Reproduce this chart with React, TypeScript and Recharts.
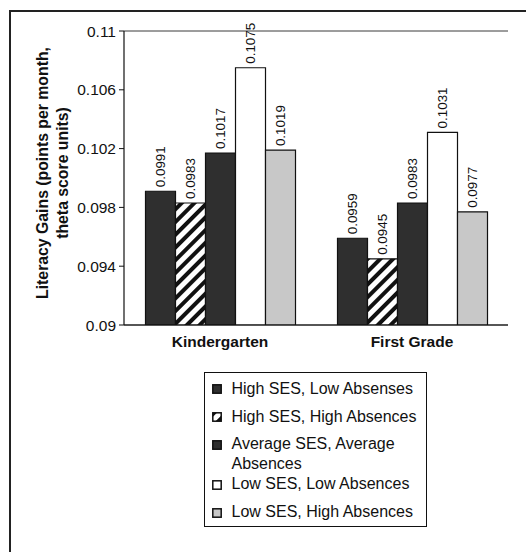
import React from 'react';
import { BarChart, Bar, XAxis, YAxis, CartesianGrid, LabelList, Legend, Label } from 'recharts';

const categories = ['Kindergarten', 'First Grade'];
const seriesNames = [
  'High SES, Low Absenses',
  'High SES, High Absences',
  'Average SES, Average Absences',
  'Low SES, Low Absences',
  'Low SES, High Absences',
];
const legendLines = [
  ['High SES, Low Absenses'],
  ['High SES, High Absences'],
  ['Average SES, Average', 'Absences'],
  ['Low SES, Low Absences'],
  ['Low SES, High Absences'],
];
const highSesLowAbs = [0.0991, 0.0959];
const highSesHighAbs = [0.0983, 0.0945];
const avgSesAvgAbs = [0.1017, 0.0983];
const lowSesLowAbs = [0.1075, 0.1031];
const lowSesHighAbs = [0.1019, 0.0977];
const yTicks = [0.09, 0.094, 0.098, 0.102, 0.106, 0.11];
const yLabelLines = ['Literacy Gains (points per month,', 'theta score units)'];

const seriesKeys = ['s1', 's2', 's3', 's4', 's5'];
const seriesValues = [highSesLowAbs, highSesHighAbs, avgSesAvgAbs, lowSesLowAbs, lowSesHighAbs];
const fills = ['#2f2f2f', 'url(#hatch)', '#2f2f2f', '#ffffff', '#c8c8c8'];

const data = categories.map((c, i) => {
  const row: any = { name: c };
  seriesKeys.forEach((k, j) => {
    row[k] = seriesValues[j][i];
  });
  return row;
});

const FONT = '"Liberation Sans", Arial, Helvetica, sans-serif';

const renderBarLabel = (props: any) => {
  const { x, y, width, value } = props;
  const cx = Number(x) + Number(width) / 2;
  const ty = Number(y) - 4;
  return (
    <text
      x={cx}
      y={ty}
      transform={`rotate(-90 ${cx} ${ty})`}
      textAnchor="start"
      dominantBaseline="central"
      fontSize={13.4}
      fontFamily={FONT}
      fill="#111"
    >
      {String(value)}
    </text>
  );
};

const renderYLabel = (props: any) => {
  const vb = props.viewBox || { x: 0, y: 31, width: 124, height: 294 };
  const cy = vb.y + vb.height / 2 - 5;
  const xs = [42, 62];
  return (
    <g>
      {yLabelLines.map((line, i) => (
        <text
          key={i}
          x={xs[i]}
          y={cy}
          transform={`rotate(-90 ${xs[i]} ${cy})`}
          textAnchor="middle"
          dominantBaseline="central"
          fontSize={15.8}
          fontWeight="bold"
          fontFamily={FONT}
          fill="#111"
        >
          {line}
        </text>
      ))}
    </g>
  );
};

const rowTops = [17.3, 45.3, 73, 113, 140.7];

const renderLegend = () => (
  <div
    style={{
      position: 'relative',
      width: 223,
      height: 155,
      border: '1.6px solid #111',
      boxSizing: 'border-box',
      fontFamily: FONT,
      fontSize: 16,
      color: '#111',
      background: '#fff',
    }}
  >
    {legendLines.map((lines, i) => (
      <div key={i} style={{ position: 'absolute', left: 0, top: rowTops[i] - 10 - 1.6, width: 220 }}>
        <svg
          width={10}
          height={10}
          style={{ position: 'absolute', left: 7, top: 5.5 }}
        >
          <rect x={0.8} y={0.8} width={8.4} height={8.4} fill={fills[i]} stroke="#111" strokeWidth={1.5} />
        </svg>
        <div style={{ position: 'absolute', left: 26.5, top: 0, lineHeight: '19.5px', whiteSpace: 'nowrap' }}>
          {lines.map((l, k) => (
            <div key={k}>{l}</div>
          ))}
        </div>
      </div>
    ))}
  </div>
);

export default function App() {
  return (
    <div style={{ position: 'absolute', left: 0, top: 0, width: 526, height: 552, background: '#fff' }}>
      <div
        style={{
          position: 'absolute',
          left: 9,
          top: 10,
          width: 517,
          height: 542,
          borderLeft: '2px solid #222',
          borderTop: '2px solid #222',
          boxSizing: 'border-box',
        }}
      />
      <BarChart
        width={526}
        height={552}
        data={data}
        margin={{ top: 31, right: 18, left: 0, bottom: 197 }}
        barCategoryGap="11.2%"
        barGap={0}
        style={{ position: 'absolute', left: 0, top: 0 }}
      >
        <defs>
          <pattern id="hatch" patternUnits="userSpaceOnUse" width={9} height={9} patternTransform="rotate(45)">
            <rect x={0} y={0} width={9} height={9} fill="#ffffff" />
            <rect x={0} y={0} width={4} height={9} fill="#111111" />
          </pattern>
        </defs>
        <CartesianGrid vertical={false} stroke="#3a3a3a" strokeWidth={1} />
        <XAxis
          dataKey="name"
          height={30}
          axisLine={{ stroke: '#111', strokeWidth: 1.2 }}
          tickLine={false}
          tickSize={6}
          tickMargin={5}
          tick={{ fill: '#111', fontSize: 15.5, fontWeight: 'bold', fontFamily: FONT }}
        />
        <YAxis
          yAxisId="left"
          width={124}
          domain={[0.09, 0.11]}
          ticks={yTicks}
          interval={0}
          allowDataOverflow
          tickFormatter={(v: number) => String(v)}
          axisLine={{ stroke: '#111', strokeWidth: 1.2 }}
          tickLine={{ stroke: '#111' }}
          tickSize={5}
          tickMargin={3}
          tick={{ fill: '#111', fontSize: 15.5, fontFamily: FONT }}
        >
          <Label content={renderYLabel} />
        </YAxis>
        <YAxis
          yAxisId="right"
          orientation="right"
          width={0}
          domain={[0.09, 0.11]}
          tick={false}
          tickLine={false}
          axisLine={{ stroke: '#333', strokeWidth: 1 }}
        />
        {seriesKeys.map((k, j) => (
          <Bar
            key={k}
            yAxisId="left"
            dataKey={k}
            name={seriesNames[j]}
            fill={fills[j]}
            stroke="#111"
            strokeWidth={1.2}
            isAnimationActive={false}
          >
            <LabelList dataKey={k} content={renderBarLabel} />
          </Bar>
        ))}
        <Legend
          layout="horizontal"
          verticalAlign="middle"
          align="center"
          content={renderLegend}
          wrapperStyle={{ position: 'absolute', left: 204, top: 372, width: 223, height: 155 }}
        />
      </BarChart>
    </div>
  );
}
